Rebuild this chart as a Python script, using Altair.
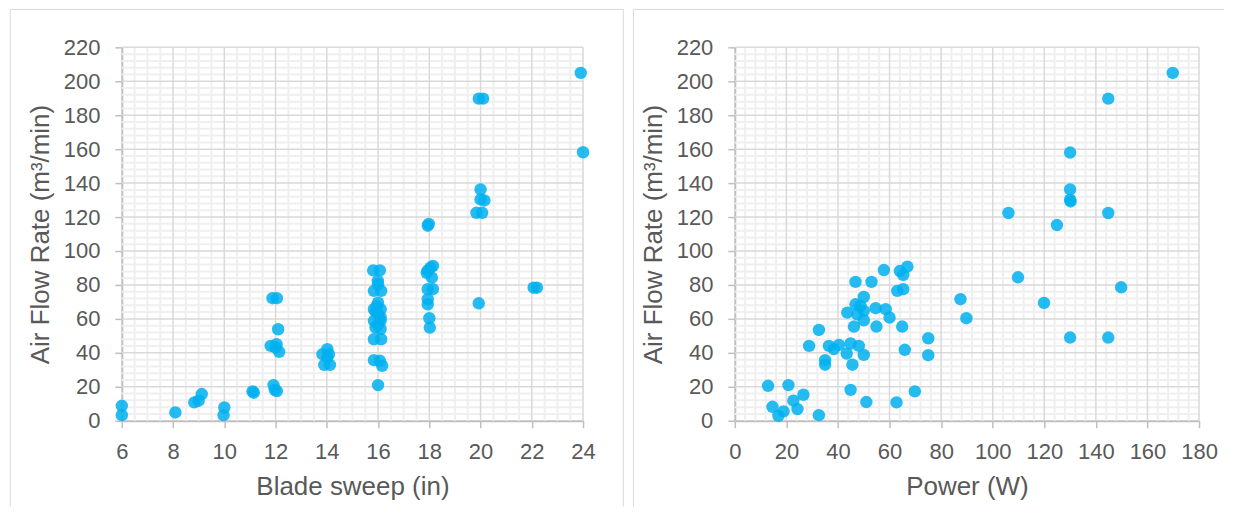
import altair as alt
import pandas as pd

# ---- Left panel: blade sweep (in) vs air flow rate (m3/min)
sweep_in = [6.0, 6.0, 8.09, 8.83, 9.0, 9.12, 10.0, 9.97, 11.1, 11.15,
            11.92, 11.97, 12.05, 11.88, 12.05, 12.1, 11.81, 12.04, 12.14, 12.0,
            13.83, 14.02, 14.08, 13.9, 14.12, 14.02,
            15.81, 16.07, 15.99, 16.0, 15.84, 16.12, 16.0, 15.84, 16.1, 15.95,
            16.0, 16.1, 15.84, 16.1, 16.0, 15.9, 16.1, 15.84, 16.12, 15.84,
            16.07, 16.16, 16.0, 15.9,
            17.94, 17.98, 17.94, 18.14, 18.05, 17.9, 18.1, 17.94, 18.14, 17.94,
            17.94, 18.0, 18.02,
            19.93, 20.1, 20.0, 20.0, 20.15, 19.84, 20.06, 19.93,
            22.07, 22.2, 23.91, 24.0]
sweep_flow = [8.8, 3.3, 4.9, 10.8, 11.8, 15.7, 7.8, 3.3, 17.3, 16.5,
              21.0, 18.2, 17.5, 72.2, 72.2, 53.9, 44.1, 45.1, 40.6, 43.1,
              39.2, 42.2, 39.2, 32.9, 32.9, 37.2,
              88.6, 88.6, 82.4, 80.4, 76.5, 76.5, 69.6, 65.7, 65.7, 67.5,
              62.7, 61.0, 58.8, 58.8, 56.5, 54.9, 54.0, 48.0, 48.0, 35.7,
              35.3, 32.4, 21.0, 64.0,
              114.9, 116.0, 88.5, 91.2, 90.2, 87.2, 84.3, 77.5, 77.5, 71.6,
              68.6, 60.4, 54.9,
              189.8, 189.8, 136.3, 130.4, 129.8, 122.5, 122.5, 69.2,
              78.4, 78.4, 204.9, 158.2]

# ---- Right panel: power (W) vs air flow rate (m3/min)
power_w = [169.8, 144.8, 130.0, 130.0, 130.0, 130.2, 106.1, 144.8, 124.9, 109.8,
           149.8, 87.5, 119.9, 89.8, 130.0, 144.8,
           12.9, 20.8, 26.6, 22.7, 24.3, 14.6, 16.9, 18.9, 32.6, 44.9,
           51.0, 62.7, 69.8, 28.8, 32.6, 35.0, 35.0, 36.5, 38.4, 40.4,
           43.4, 44.9, 48.1, 50.0, 45.6, 65.9, 75.0, 75.0, 46.8, 53.0,
           57.8, 64.0, 66.9, 65.3, 63.0, 65.3, 50.0, 46.8, 48.7, 43.6,
           47.5, 50.0, 54.6, 58.5, 60.0, 46.2, 50.0, 54.9, 64.9]
power_flow = [204.9, 189.8, 158.0, 136.3, 130.2, 129.2, 122.4, 122.4, 115.3, 84.5,
              78.6, 71.6, 69.4, 60.4, 49.0, 49.0,
              20.6, 21.0, 15.3, 11.8, 6.9, 8.2, 2.9, 5.5, 3.3, 18.2,
              11.0, 10.8, 17.3, 44.1, 53.5, 35.7, 33.0, 44.1, 42.2, 44.7,
              39.6, 45.5, 44.1, 38.8, 33.0, 41.8, 48.6, 38.6, 81.8, 81.8,
              88.8, 88.2, 90.8, 85.9, 76.5, 77.5, 72.9, 68.6, 67.6, 63.7,
              62.7, 64.7, 66.3, 65.7, 60.8, 55.5, 59.2, 55.5, 55.5]

# axis tick values
sweep_ticks = [6, 8, 10, 12, 14, 16, 18, 20, 22, 24]
power_ticks = [0, 20, 40, 60, 80, 100, 120, 140, 160, 180]
flow_ticks = [0, 20, 40, 60, 80, 100, 120, 140, 160, 180, 200, 220]

FONT = "Liberation Sans"
TXT = "#595959"
PT = "#00B0F0"
MAJOR = "#d9d9d9"
MINOR = "#efefef"
FRAME = "#d9d9d9"
H = 374


def frac_range(a, b, step):
    n = int(round((b - a) / step))
    return [round(a + i * step, 4) for i in range(n + 1)]


def panel(xs, ys, xticks, xstep_minor, xtitle, width, frame_left, frame_right):
    df = pd.DataFrame({"x": xs, "y": ys})
    xdom = [xticks[0], xticks[-1]]
    xscale = alt.Scale(domain=xdom, nice=False, zero=False)
    yscale = alt.Scale(domain=[0, 220], nice=False)
    xaxis = alt.Axis(values=xticks, title=xtitle, grid=False,
                     labelPadding=14, titlePadding=11,
                     labelOverlap=False, labelFlush=False)
    yaxis = alt.Axis(values=flow_ticks, title="Air Flow Rate (m³/min)",
                     grid=False, labelPadding=15, titlePadding=10,
                     labelOverlap=False, labelFlush=False)

    x_minor = [v for v in frac_range(xdom[0], xdom[1], xstep_minor) if v not in xticks]
    y_minor = [v for v in range(0, 221, 4) if v not in flow_ticks]
    x_major = [v for v in xticks if v != xdom[0]]
    y_major = [v for v in flow_ticks if v != 0]

    vminor = alt.Chart(pd.DataFrame({"v": x_minor})).mark_rule(
        color=MINOR, strokeWidth=2).encode(
        x=alt.X("v:Q", scale=xscale, axis=xaxis, title=xtitle))
    hminor = alt.Chart(pd.DataFrame({"v": y_minor})).mark_rule(
        color=MINOR, strokeWidth=2).encode(
        y=alt.Y("v:Q", scale=yscale, axis=yaxis, title="Air Flow Rate (m³/min)"))
    vmajor = alt.Chart(pd.DataFrame({"v": x_major})).mark_rule(
        color=MAJOR, strokeWidth=1.5).encode(
        x=alt.X("v:Q", scale=xscale, axis=xaxis, title=xtitle))
    hmajor = alt.Chart(pd.DataFrame({"v": y_major})).mark_rule(
        color=MAJOR, strokeWidth=1.5).encode(
        y=alt.Y("v:Q", scale=yscale, axis=yaxis, title="Air Flow Rate (m³/min)"))

    pts = alt.Chart(df).mark_circle(size=155, color=PT, opacity=0.85).encode(
        x=alt.X("x:Q", scale=xscale, axis=xaxis, title=xtitle),
        y=alt.Y("y:Q", scale=yscale, axis=yaxis, title="Air Flow Rate (m³/min)"),
    )

    one = alt.Data(values=[{}])
    fl = alt.Chart(one).mark_rule(color=FRAME, strokeWidth=1).encode(
        x=alt.value(frame_left), y=alt.value(-38), y2=alt.value(460))
    layers = [vminor, hminor, vmajor, hmajor, pts, fl]
    if frame_right is not None:
        ft = alt.Chart(one).mark_rule(color=FRAME, strokeWidth=1).encode(
            x=alt.value(frame_left), x2=alt.value(frame_right), y=alt.value(-38))
        fr = alt.Chart(one).mark_rule(color=FRAME, strokeWidth=1).encode(
            x=alt.value(frame_right), y=alt.value(-38), y2=alt.value(460))
        layers += [ft, fr]
    return alt.layer(*layers).properties(width=width, height=H)


left = panel(sweep_in, sweep_flow, sweep_ticks, 0.5, "Blade sweep (in)", 462, -111.7, 502.3)
right_p = panel(power_w, power_flow, power_ticks, 4, "Power (W)", 465, -101.5, None)
# right panel: frame top line runs to the page edge
one = alt.Data(values=[{}])
rt = alt.Chart(one).mark_rule(color=FRAME, strokeWidth=1).encode(
    x=alt.value(-101.5), x2=alt.value(490), y=alt.value(-38))
right = alt.layer(right_p, rt)

chart = alt.hconcat(left, right, spacing=9).properties(
    padding={"left": 1, "top": 0, "right": 0, "bottom": 0}
).configure_view(stroke=None).configure_axis(
    domainColor="#bfbfbf", domainWidth=2, tickColor="#bfbfbf", tickWidth=1.5,
    tickSize=7, labelFont=FONT, labelFontSize=22, labelColor=TXT,
    titleFont=FONT, titleFontSize=26, titleColor=TXT, titleFontWeight="normal",
    labelOverlap=False,
)

chart.save("out.html", embed_options={"renderer": "svg", "actions": False})
